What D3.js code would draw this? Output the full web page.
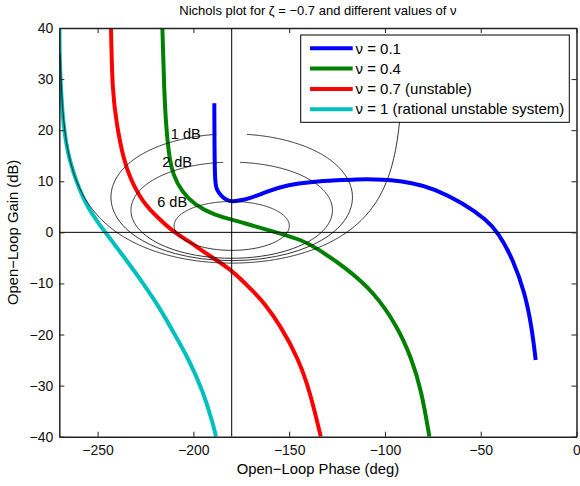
<!DOCTYPE html>
<html>
<head>
<meta charset="utf-8">
<script src="https://cdn.jsdelivr.net/npm/d3@7"></script>
<style>
  body { margin: 0; background: #fff; }
  text { font-family: "Liberation Sans", Arial, sans-serif; }
</style>
</head>
<body>
<div id="chart"></div>
<script>
// valeurs (phase en degrés, gain en dB)
const seriesNames = ["ν = 0.1", "ν = 0.4", "ν = 0.7 (unstable)", "ν = 1 (rational unstable system)"];
const seriesColors = ["#0000ff", "#008000", "#ff0000", "#00bfbf"];

const phaseNu01 = [-189.08, -188.98, -188.72, -187.83, -185.22, -182.61, -180.0, -175.67, -170.45, -161.73, -151.29, -137.4, -125.03, -114.75, -104.99, -97.37, -85.99, -74.76, -59.1, -46.89, -40.83, -33.0, -26.9, -23.4, -21.3];
const gainNu01  = [25.26, 16.12, 9.66, 8.29, 6.98, 6.33, 6.0, 6.27, 6.66, 7.96, 9.27, 9.91, 10.19, 10.38, 10.38, 10.25, 9.72, 8.62, 5.69, 2.42, -0.07, -5.41, -11.93, -18.47, -24.99];

const phaseNu04 = [-216.2, -215.7, -215.2, -214.3, -212.6, -210.5, -206.1, -199.2, -189.6, -175.7, -170.4, -154.8, -143.5, -135.6, -120.0, -106.1, -93.9, -86.0, -80.8, -76.8];
const gainNu04  = [40, 34.1, 27.5, 21.0, 14.5, 11.2, 7.96, 5.35, 3.40, 2.08, 1.44, -0.19, -1.5, -3.1, -7.04, -11.6, -18.1, -24.7, -31.2, -40];

const phaseNu07 = [-243.0, -242.3, -240.0, -236.6, -233.1, -226.7, -218.3, -210.5, -203.3, -191.9, -180.1, -168.7, -163.5, -154.8, -145.2, -139.1, -133.5];
const gainNu07  = [40, 27.5, 21.0, 14.5, 10.6, 6.0, 2.75, 0.13, -1.50, -4.53, -7.27, -11.6, -13.6, -18.1, -24.7, -31.2, -40];

const phaseNu1 = [-269.95, -269.8, -269.1, -267.9, -265.3, -259.2, -254.9, -248.9, -246.2, -235.7, -226.2, -217.4, -209.6, -202.7, -194.8, -189.6, -188.2];
const gainNu1  = [40, 34.0, 27.5, 21.0, 14.5, 7.96, 4.71, 1.44, 0.13, -5.08, -9.97, -14.87, -20.1, -24.66, -31.2, -37.7, -40];

const allPhases = [phaseNu01, phaseNu04, phaseNu07, phaseNu1];
const allGains = [gainNu01, gainNu04, gainNu07, gainNu1];

// abaque de Nichols : niveaux de gain en boucle fermée
const mLevels = [0, 1, 2, 6];
const mLabels = ["", "1 dB", "2 dB", "6 dB"];
const mGaps = [0, 8, 4, 0]; // demi-largeur (deg) du trou en haut du contour, autour de -180

const xTicks = [-250, -200, -150, -100, -50, 0];
const yTicks = [-40, -30, -20, -10, 0, 10, 20, 30, 40];

const width = 580, height = 486;
const margin = { left: 59.3, right: 3.5, top: 28, bottom: 49.3 };

const x = d3.scaleLinear().domain([-270, 0]).range([margin.left, width - margin.right]);
const y = d3.scaleLinear().domain([-40, 40]).range([height - margin.bottom, margin.top]);

const svg = d3.select("#chart").append("svg")
    .attr("width", width)
    .attr("height", height);

svg.append("defs").append("clipPath").attr("id", "plot-clip")
  .append("rect")
    .attr("x", x(-270)).attr("y", y(40))
    .attr("width", x(0) - x(-270)).attr("height", y(-40) - y(40));

const plot = svg.append("g").attr("clip-path", "url(#plot-clip)");

const line = d3.line()
    .x(d => x(d[0]))
    .y(d => y(d[1]))
    .curve(d3.curveBasis);

allPhases.forEach((ph, i) => {
  const pts = ph.map((p, k) => [p, allGains[i][k]]);
  plot.append("path")
      .datum(pts)
      .attr("fill", "none")
      .attr("stroke", seriesColors[i])
      .attr("stroke-width", 4)
      .attr("stroke-linejoin", "round")
      .attr("d", line);
});

// contours M
function toNichols(re, im) {
  let p = Math.atan2(im, re) * 180 / Math.PI;
  if (p > 0) p -= 360;
  return [p, 20 * Math.log10(Math.hypot(re, im))];
}

function mContour(mdb) {
  const pts = [];
  if (mdb === 0) {
    for (let i = 0; i <= 400; i++) {
      const psi = (-89.49 + i * 178.98 / 400) * Math.PI / 180;
      pts.push(toNichols(-0.5, 0.5 * Math.tan(psi)));
    }
  } else {
    const M = Math.pow(10, mdb / 20), M2 = M * M;
    const c = -M2 / (M2 - 1), r = M / (M2 - 1);
    for (let i = 0; i <= 360; i++) {
      const t = i * Math.PI / 180;
      pts.push(toNichols(c + r * Math.cos(t), r * Math.sin(t)));
    }
  }
  return pts;
}

mLevels.forEach((m, i) => {
  const pts = mContour(m);
  const topGain = d3.max(pts, d => d[1]);
  const gap = mGaps[i];
  const contourLine = d3.line()
      .defined(d => !(gap > 0 && Math.abs(d[0] + 180) < gap && d[1] > topGain - 3))
      .x(d => x(d[0]))
      .y(d => y(d[1]));
  plot.append("path")
      .datum(pts)
      .attr("fill", "none")
      .attr("stroke", "#000")
      .attr("stroke-width", 0.8)
      .attr("d", contourLine);
});

// étiquettes des contours
const labelPhase = [null, -196.2, -200.7, -203.3];
mLevels.forEach((m, i) => {
  if (!mLabels[i]) return;
  const topGain = d3.max(mContour(m), d => d[1]);
  svg.append("text")
      .attr("x", x(labelPhase[i]))
      .attr("y", y(topGain))
      .attr("dy", "0.35em")
      .attr("text-anchor", "end")
      .style("font-size", "14.5px")
      .text(mLabels[i]);
});

// axes -180 deg et 0 dB
plot.append("line")
    .attr("x1", x(-180)).attr("x2", x(-180))
    .attr("y1", y(40)).attr("y2", y(-40))
    .attr("stroke", "#000").attr("stroke-width", 1);
plot.append("line")
    .attr("x1", x(-270)).attr("x2", x(0))
    .attr("y1", y(0)).attr("y2", y(0))
    .attr("stroke", "#000").attr("stroke-width", 1);

// axes
function styleAxis(g) {
  g.selectAll("path.domain").attr("stroke", "#222").attr("stroke-width", 1.5);
  g.selectAll(".tick line").attr("stroke", "#222");
  g.selectAll(".tick text").style("font-size", "14px").attr("fill", "#111")
    .style("font-family", "'Liberation Sans', Arial, sans-serif");
}

svg.append("g")
    .attr("transform", "translate(0," + y(-40) + ")")
    .call(d3.axisBottom(x).tickValues(xTicks).tickSizeInner(-5).tickSizeOuter(0).tickPadding(8.4))
    .call(styleAxis);
svg.append("g")
    .attr("transform", "translate(0," + y(40) + ")")
    .call(d3.axisTop(x).tickValues(xTicks).tickSizeInner(-5).tickSizeOuter(0).tickFormat(""))
    .call(styleAxis);
svg.append("g")
    .attr("transform", "translate(" + x(-270) + ",0)")
    .call(d3.axisLeft(y).tickValues(yTicks).tickSizeInner(-5).tickSizeOuter(0).tickPadding(6))
    .call(styleAxis);
svg.append("g")
    .attr("transform", "translate(" + x(0) + ",0)")
    .call(d3.axisRight(y).tickValues(yTicks).tickSizeInner(-5).tickSizeOuter(0).tickFormat(""))
    .call(styleAxis);

// titres
svg.append("text")
    .attr("x", (x(-270) + x(0)) / 2)
    .attr("y", 15)
    .attr("text-anchor", "middle")
    .style("font-size", "13px")
    .text("Nichols plot for ζ = −0.7 and different values of ν");

svg.append("text")
    .attr("x", (x(-270) + x(0)) / 2)
    .attr("y", 474)
    .attr("text-anchor", "middle")
    .style("font-size", "14.8px")
    .text("Open−Loop Phase (deg)");

svg.append("text")
    .attr("transform", "translate(18," + (y(40) + y(-40)) / 2 + ")rotate(-90)")
    .attr("text-anchor", "middle")
    .style("font-size", "14.8px")
    .text("Open−Loop Gain (dB)");

// légende
const legend = svg.append("g");
legend.append("rect")
    .attr("x", 300.7).attr("y", 35)
    .attr("width", 268.6).attr("height", 87.3)
    .attr("fill", "#fff")
    .attr("stroke", "#000")
    .attr("stroke-width", 1);

seriesNames.forEach((name, i) => {
  const ly = 48.3 + i * 20.3;
  legend.append("line")
      .attr("x1", 310).attr("x2", 352.7)
      .attr("y1", ly).attr("y2", ly)
      .attr("stroke", seriesColors[i])
      .attr("stroke-width", 4);
  legend.append("text")
      .attr("x", 355.5)
      .attr("y", ly)
      .attr("dy", "0.35em")
      .style("font-size", "15px")
      .text(name);
});
</script>
</body>
</html>
